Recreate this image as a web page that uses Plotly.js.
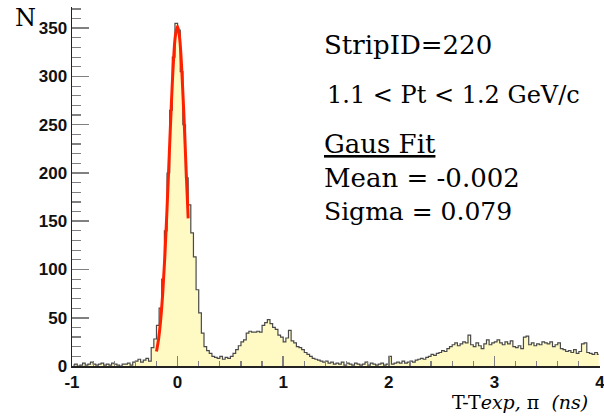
<!DOCTYPE html>
<html>
<head>
<meta charset="utf-8">
<script src="https://cdn.plot.ly/plotly-3.0.1.min.js"></script>
<style>html,body{margin:0;padding:0;background:#fff;}#chart{width:604px;height:419px;}</style>
</head>
<body>
<div id="chart"></div>
<script>
// Histogram: 200 bins of width 0.025 from -1 to 4
const binStart = -1;
const binWidth = 0.025;
const counts = [
  1,2,0,1,3,1,2,4,2,1,
  2,3,1,2,1,3,2,1,0,2,
  2,3,1,4,5,7,4,6,8,5,
  19,28,42,60,90,140,200,265,320,355,
  348,305,250,195,167,138,113,79,55,34,
  20,16,13,10,9,8,10,7,9,8,
  10,13,17,21,25,27,34,36,35,35,
  36,35,42,45,48,44,40,38,32,30,
  25,29,37,26,24,20,19,17,14,12,
  10,8,7,6,5,4,5,3,4,2,
  3,2,4,1,3,2,1,3,2,1,
  2,4,1,3,2,1,2,3,1,2,
  10,2,3,4,3,5,3,4,5,4,
  6,7,8,7,9,10,12,11,13,14,
  16,15,18,20,22,24,21,23,25,24,
  32,22,20,24,21,18,23,27,22,24,
  25,27,24,22,25,23,26,20,19,21,
  18,30,31,22,24,21,23,22,25,24,
  23,25,20,22,24,18,17,15,16,14,
  17,13,15,23,24,14,13,12,14,12
];
// Gaussian fit curve
const fitX = [-0.20,-0.18,-0.16,-0.14,-0.12,-0.10,-0.08,-0.06,-0.04,-0.02,0.00,0.02,0.04,0.06,0.08,0.10];
const fitY = [15,28,48,77,115,163,216,269,314,343,352,339,306,259,205,153];

const xTickVals = [-1,0,1,2,3,4];
const yTickVals = [0,50,100,150,200,250,300,350];

const centers = counts.map((_, i) => binStart + binWidth * (i + 0.5));

const histTrace = {
  type: 'scatter', mode: 'lines',
  x: centers, y: counts,
  line: {shape: 'hvh', color: '#4a4a4a', width: 1.2},
  fill: 'tozeroy', fillcolor: 'rgb(255,250,196)',
  hoverinfo: 'skip', showlegend: false
};
const fitTrace = {
  type: 'scatter', mode: 'lines',
  x: fitX, y: fitY,
  line: {shape: 'spline', color: 'rgb(255,32,0)', width: 3},
  showlegend: false
};

const tickFont = {family: 'Liberation Sans, Arial, sans-serif', size: 17, color: '#111', weight: 700};
const serif = 'DejaVu Serif, serif';
const txt = (text, x, y, size, xanchor) => ({
  text: text, xref: 'paper', yref: 'paper', x: x, y: y,
  xanchor: xanchor || 'left', yanchor: 'middle', showarrow: false,
  font: {family: serif, size: size, color: '#000'}
});

const layout = {
  width: 604, height: 419,
  margin: {l: 72, r: 4, t: 7, b: 53},
  paper_bgcolor: '#fff', plot_bgcolor: '#fff',
  xaxis: {
    range: [-1, 4], showgrid: false, zeroline: false,
    showline: true, linecolor: '#222', linewidth: 1.5,
    ticks: 'inside', ticklen: 10, tickwidth: 1.5, tickcolor: '#808080',
    tickvals: xTickVals, ticktext: xTickVals.map(String),
    tickfont: tickFont, ticklabeloverflow: 'allow',
    minor: {dtick: 0.2, tick0: 0, ticks: 'inside', ticklen: 5, tickwidth: 1.2, tickcolor: '#808080', showgrid: false}
  },
  yaxis: {
    range: [0, 372], showgrid: false, zeroline: false,
    showline: true, linecolor: '#222', linewidth: 1.5,
    ticks: 'inside', ticklen: 17, tickwidth: 1.5, tickcolor: '#808080',
    tickvals: yTickVals, ticktext: yTickVals.map(String),
    tickfont: tickFont,
    minor: {dtick: 10, tick0: 0, ticks: 'inside', ticklen: 9, tickwidth: 1.2, tickcolor: '#808080', showgrid: false}
  },
  annotations: [
    txt('N', -0.112, 0.969, 24),
    txt('StripID=220', 0.4735, 0.894, 26),
    txt('1.1 &lt; Pt &lt; 1.2 GeV/c', 0.479, 0.755, 24),
    txt('<u>Gaus Fit</u>', 0.4735, 0.618, 26),
    txt('Mean = -0.002', 0.4735, 0.524, 26),
    txt('Sigma = 0.079', 0.4735, 0.429, 25),
    txt('T-T<i>exp,</i>\u00a0\u03c0\u00a0\u00a0<i>(ns)</i>', 0.981, -0.100, 19, 'right')
  ]
};

Plotly.newPlot('chart', [histTrace, fitTrace], layout, {displayModeBar: false, staticPlot: true});
</script>
</body>
</html>
